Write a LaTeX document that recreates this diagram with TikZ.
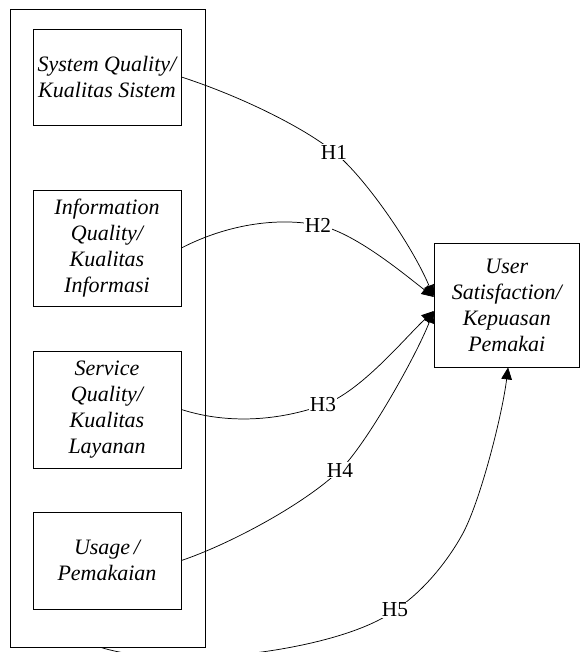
\documentclass[tikz,border=0pt]{standalone}
\usepackage{fontspec}
\setmainfont{Liberation Serif}
\usetikzlibrary{arrows.meta}
\begin{document}
\begin{tikzpicture}[x=0.75pt,y=-0.75pt,
  box/.style={draw, line width=0.6pt, inner sep=0pt, align=center,
    font=\fontsize{16.5}{19.5}\selectfont\itshape},
  lbl/.style={fill=white, inner sep=1pt, font=\fontsize{16}{19.5}\selectfont},
  conn/.style={line width=0.55pt, -{Triangle[length=9pt,width=8pt]}}]
\useasboundingbox (0,0) rectangle (580,652);
% outer frame
\node[draw, line width=0.6pt, minimum width=146.25pt, minimum height=478.5pt, inner sep=0pt] (outer) at (107.5,328) {};
% left boxes
\node[box, minimum width=111pt, minimum height=72pt] (b1) at (107,77) {System Quality/\\Kualitas Sistem};
\node[box, minimum width=111pt, minimum height=87pt] (b2) at (107,248) {Information\\Quality/\\Kualitas\\Informasi};
\node[box, minimum width=111pt, minimum height=87.75pt] (b3) at (107,409.5) {Service\\Quality/\\Kualitas\\Layanan};
\node[box, minimum width=111pt, minimum height=72.75pt] (b4) at (107,560.5) {Usage\,/\\Pemakaian};
% target box
\node[box, minimum width=109pt, minimum height=93pt] (tgt) at (506.75,305) {User\\Satisfaction/\\Kepuasan\\Pemakai};
% connectors
\draw[conn] (b1.east) .. controls (240,96) and (303,127) .. (334,152) node[lbl] {H1}
  .. controls (365,177) and (412.5,246) .. ([yshift=6pt]tgt.west);
\draw[conn] (b2.east) .. controls (220,228) and (270,216) .. (318,225) node[lbl] {H2}
  .. controls (354,232) and (404,274) .. ([yshift=6pt]tgt.west);
\draw[conn] (b3.east) .. controls (230,425) and (280.7,420) .. (323,405) node[lbl] {H3}
  .. controls (360.6,392) and (404.8,338) .. ([yshift=-4.5pt]tgt.west);
\draw[conn] (b4.east) .. controls (229,544.5) and (304,504.5) .. (340,470) node[lbl] {H4}
  .. controls (365.2,446) and (415.5,357.5) .. ([yshift=-4.5pt]tgt.west);
\begin{scope}
\clip (0,0) rectangle (580,652);
\draw[conn] ([xshift=-5pt]outer.south) .. controls (180,672) and (345,648.6) .. (395,610) node[lbl] {H5}
  .. controls (420,594) and (445,565.5) .. (462,535)
  .. controls (479.6,503.7) and (502,416.5) .. ([xshift=1pt]tgt.south);
\end{scope}
\end{tikzpicture}
\end{document}
